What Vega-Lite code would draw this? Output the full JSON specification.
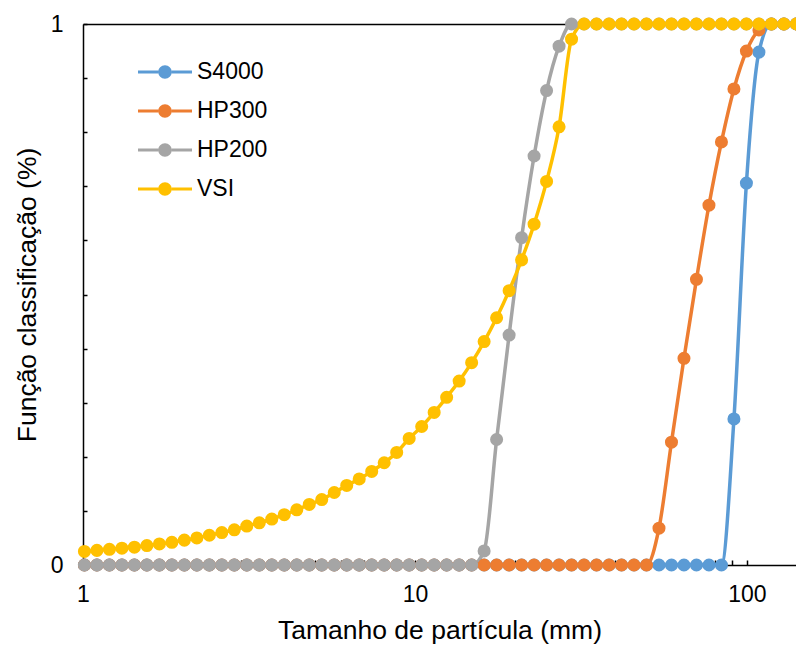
{
  "$schema": "https://vega.github.io/schema/vega-lite/v6.json",
  "width": 713,
  "height": 541,
  "autosize": {"type": "none"},
  "padding": {"left": 83, "top": 24, "right": 0, "bottom": 81},
  "background": "white",
  "config": {"view": {"stroke": null}, "font": "Liberation Sans"},
  "datasets": {
    "curves": [
      {"series": "S4000", "x": 1.01, "y": 0}, {"series": "S4000", "x": 1.1014, "y": 0}, {"series": "S4000", "x": 1.2011, "y": 0}, {"series": "S4000", "x": 1.3098, "y": 0}, {"series": "S4000", "x": 1.4284, "y": 0}, {"series": "S4000", "x": 1.5576, "y": 0}, {"series": "S4000", "x": 1.6986, "y": 0}, {"series": "S4000", "x": 1.8523, "y": 0}, {"series": "S4000", "x": 2.02, "y": 0}, {"series": "S4000", "x": 2.2028, "y": 0}, {"series": "S4000", "x": 2.4022, "y": 0}, {"series": "S4000", "x": 2.6196, "y": 0}, {"series": "S4000", "x": 2.8567, "y": 0}, {"series": "S4000", "x": 3.1152, "y": 0}, {"series": "S4000", "x": 3.3972, "y": 0}, {"series": "S4000", "x": 3.7047, "y": 0}, {"series": "S4000", "x": 4.04, "y": 0}, {"series": "S4000", "x": 4.4056, "y": 0}, {"series": "S4000", "x": 4.8044, "y": 0}, {"series": "S4000", "x": 5.2393, "y": 0}, {"series": "S4000", "x": 5.7135, "y": 0}, {"series": "S4000", "x": 6.2305, "y": 0}, {"series": "S4000", "x": 6.7945, "y": 0}, {"series": "S4000", "x": 7.4094, "y": 0}, {"series": "S4000", "x": 8.08, "y": 0}, {"series": "S4000", "x": 8.8112, "y": 0}, {"series": "S4000", "x": 9.6088, "y": 0}, {"series": "S4000", "x": 10.479, "y": 0}, {"series": "S4000", "x": 11.427, "y": 0}, {"series": "S4000", "x": 12.461, "y": 0}, {"series": "S4000", "x": 13.589, "y": 0}, {"series": "S4000", "x": 14.819, "y": 0}, {"series": "S4000", "x": 16.16, "y": 0}, {"series": "S4000", "x": 17.622, "y": 0}, {"series": "S4000", "x": 19.218, "y": 0}, {"series": "S4000", "x": 20.956, "y": 0}, {"series": "S4000", "x": 22.853, "y": 0}, {"series": "S4000", "x": 24.922, "y": 0}, {"series": "S4000", "x": 27.178, "y": 0}, {"series": "S4000", "x": 29.637, "y": 0}, {"series": "S4000", "x": 32.32, "y": 0}, {"series": "S4000", "x": 35.245, "y": 0}, {"series": "S4000", "x": 38.436, "y": 0}, {"series": "S4000", "x": 41.914, "y": 0}, {"series": "S4000", "x": 45.708, "y": 0}, {"series": "S4000", "x": 49.844, "y": 0}, {"series": "S4000", "x": 54.355, "y": 0}, {"series": "S4000", "x": 59.275, "y": 0}, {"series": "S4000", "x": 64.64, "y": 0}, {"series": "S4000", "x": 70.491, "y": 0}, {"series": "S4000", "x": 76.87, "y": 0}, {"series": "S4000", "x": 83.828, "y": 0}, {"series": "S4000", "x": 91.415, "y": 0.27}, {"series": "S4000", "x": 99.688, "y": 0.706}, {"series": "S4000", "x": 108.71, "y": 0.948}, {"series": "S4000", "x": 118.55, "y": 1}, {"series": "S4000", "x": 129.28, "y": 1}, {"series": "S4000", "x": 140.98, "y": 1},
      {"series": "HP300", "x": 1.01, "y": 0}, {"series": "HP300", "x": 1.1014, "y": 0}, {"series": "HP300", "x": 1.2011, "y": 0}, {"series": "HP300", "x": 1.3098, "y": 0}, {"series": "HP300", "x": 1.4284, "y": 0}, {"series": "HP300", "x": 1.5576, "y": 0}, {"series": "HP300", "x": 1.6986, "y": 0}, {"series": "HP300", "x": 1.8523, "y": 0}, {"series": "HP300", "x": 2.02, "y": 0}, {"series": "HP300", "x": 2.2028, "y": 0}, {"series": "HP300", "x": 2.4022, "y": 0}, {"series": "HP300", "x": 2.6196, "y": 0}, {"series": "HP300", "x": 2.8567, "y": 0}, {"series": "HP300", "x": 3.1152, "y": 0}, {"series": "HP300", "x": 3.3972, "y": 0}, {"series": "HP300", "x": 3.7047, "y": 0}, {"series": "HP300", "x": 4.04, "y": 0}, {"series": "HP300", "x": 4.4056, "y": 0}, {"series": "HP300", "x": 4.8044, "y": 0}, {"series": "HP300", "x": 5.2393, "y": 0}, {"series": "HP300", "x": 5.7135, "y": 0}, {"series": "HP300", "x": 6.2305, "y": 0}, {"series": "HP300", "x": 6.7945, "y": 0}, {"series": "HP300", "x": 7.4094, "y": 0}, {"series": "HP300", "x": 8.08, "y": 0}, {"series": "HP300", "x": 8.8112, "y": 0}, {"series": "HP300", "x": 9.6088, "y": 0}, {"series": "HP300", "x": 10.479, "y": 0}, {"series": "HP300", "x": 11.427, "y": 0}, {"series": "HP300", "x": 12.461, "y": 0}, {"series": "HP300", "x": 13.589, "y": 0}, {"series": "HP300", "x": 14.819, "y": 0}, {"series": "HP300", "x": 16.16, "y": 0}, {"series": "HP300", "x": 17.622, "y": 0}, {"series": "HP300", "x": 19.218, "y": 0}, {"series": "HP300", "x": 20.956, "y": 0}, {"series": "HP300", "x": 22.853, "y": 0}, {"series": "HP300", "x": 24.922, "y": 0}, {"series": "HP300", "x": 27.178, "y": 0}, {"series": "HP300", "x": 29.637, "y": 0}, {"series": "HP300", "x": 32.32, "y": 0}, {"series": "HP300", "x": 35.245, "y": 0}, {"series": "HP300", "x": 38.436, "y": 0}, {"series": "HP300", "x": 41.914, "y": 0}, {"series": "HP300", "x": 45.708, "y": 0}, {"series": "HP300", "x": 49.844, "y": 0}, {"series": "HP300", "x": 54.355, "y": 0.068}, {"series": "HP300", "x": 59.275, "y": 0.227}, {"series": "HP300", "x": 64.64, "y": 0.382}, {"series": "HP300", "x": 70.491, "y": 0.528}, {"series": "HP300", "x": 76.87, "y": 0.665}, {"series": "HP300", "x": 83.828, "y": 0.782}, {"series": "HP300", "x": 91.415, "y": 0.88}, {"series": "HP300", "x": 99.688, "y": 0.95}, {"series": "HP300", "x": 108.71, "y": 0.989}, {"series": "HP300", "x": 118.55, "y": 1}, {"series": "HP300", "x": 129.28, "y": 1}, {"series": "HP300", "x": 140.98, "y": 1},
      {"series": "HP200", "x": 1.01, "y": 0}, {"series": "HP200", "x": 1.1014, "y": 0}, {"series": "HP200", "x": 1.2011, "y": 0}, {"series": "HP200", "x": 1.3098, "y": 0}, {"series": "HP200", "x": 1.4284, "y": 0}, {"series": "HP200", "x": 1.5576, "y": 0}, {"series": "HP200", "x": 1.6986, "y": 0}, {"series": "HP200", "x": 1.8523, "y": 0}, {"series": "HP200", "x": 2.02, "y": 0}, {"series": "HP200", "x": 2.2028, "y": 0}, {"series": "HP200", "x": 2.4022, "y": 0}, {"series": "HP200", "x": 2.6196, "y": 0}, {"series": "HP200", "x": 2.8567, "y": 0}, {"series": "HP200", "x": 3.1152, "y": 0}, {"series": "HP200", "x": 3.3972, "y": 0}, {"series": "HP200", "x": 3.7047, "y": 0}, {"series": "HP200", "x": 4.04, "y": 0}, {"series": "HP200", "x": 4.4056, "y": 0}, {"series": "HP200", "x": 4.8044, "y": 0}, {"series": "HP200", "x": 5.2393, "y": 0}, {"series": "HP200", "x": 5.7135, "y": 0}, {"series": "HP200", "x": 6.2305, "y": 0}, {"series": "HP200", "x": 6.7945, "y": 0}, {"series": "HP200", "x": 7.4094, "y": 0}, {"series": "HP200", "x": 8.08, "y": 0}, {"series": "HP200", "x": 8.8112, "y": 0}, {"series": "HP200", "x": 9.6088, "y": 0}, {"series": "HP200", "x": 10.479, "y": 0}, {"series": "HP200", "x": 11.427, "y": 0}, {"series": "HP200", "x": 12.461, "y": 0}, {"series": "HP200", "x": 13.589, "y": 0}, {"series": "HP200", "x": 14.819, "y": 0}, {"series": "HP200", "x": 16.16, "y": 0.026}, {"series": "HP200", "x": 17.622, "y": 0.232}, {"series": "HP200", "x": 19.218, "y": 0.425}, {"series": "HP200", "x": 20.956, "y": 0.605}, {"series": "HP200", "x": 22.853, "y": 0.756}, {"series": "HP200", "x": 24.922, "y": 0.877}, {"series": "HP200", "x": 27.178, "y": 0.959}, {"series": "HP200", "x": 29.637, "y": 1}, {"series": "HP200", "x": 32.32, "y": 1}, {"series": "HP200", "x": 35.245, "y": 1}, {"series": "HP200", "x": 38.436, "y": 1}, {"series": "HP200", "x": 41.914, "y": 1}, {"series": "HP200", "x": 45.708, "y": 1}, {"series": "HP200", "x": 49.844, "y": 1}, {"series": "HP200", "x": 54.355, "y": 1}, {"series": "HP200", "x": 59.275, "y": 1}, {"series": "HP200", "x": 64.64, "y": 1}, {"series": "HP200", "x": 70.491, "y": 1}, {"series": "HP200", "x": 76.87, "y": 1}, {"series": "HP200", "x": 83.828, "y": 1}, {"series": "HP200", "x": 91.415, "y": 1}, {"series": "HP200", "x": 99.688, "y": 1}, {"series": "HP200", "x": 108.71, "y": 1}, {"series": "HP200", "x": 118.55, "y": 1}, {"series": "HP200", "x": 129.28, "y": 1}, {"series": "HP200", "x": 140.98, "y": 1},
      {"series": "VSI", "x": 1.01, "y": 0.025}, {"series": "VSI", "x": 1.1014, "y": 0.027}, {"series": "VSI", "x": 1.2011, "y": 0.029}, {"series": "VSI", "x": 1.3098, "y": 0.031}, {"series": "VSI", "x": 1.4284, "y": 0.033}, {"series": "VSI", "x": 1.5576, "y": 0.036}, {"series": "VSI", "x": 1.6986, "y": 0.039}, {"series": "VSI", "x": 1.8523, "y": 0.042}, {"series": "VSI", "x": 2.02, "y": 0.046}, {"series": "VSI", "x": 2.2028, "y": 0.05}, {"series": "VSI", "x": 2.4022, "y": 0.055}, {"series": "VSI", "x": 2.6196, "y": 0.06}, {"series": "VSI", "x": 2.8567, "y": 0.065}, {"series": "VSI", "x": 3.1152, "y": 0.072}, {"series": "VSI", "x": 3.3972, "y": 0.078}, {"series": "VSI", "x": 3.7047, "y": 0.085}, {"series": "VSI", "x": 4.04, "y": 0.093}, {"series": "VSI", "x": 4.4056, "y": 0.102}, {"series": "VSI", "x": 4.8044, "y": 0.112}, {"series": "VSI", "x": 5.2393, "y": 0.121}, {"series": "VSI", "x": 5.7135, "y": 0.134}, {"series": "VSI", "x": 6.2305, "y": 0.147}, {"series": "VSI", "x": 6.7945, "y": 0.159}, {"series": "VSI", "x": 7.4094, "y": 0.173}, {"series": "VSI", "x": 8.08, "y": 0.189}, {"series": "VSI", "x": 8.8112, "y": 0.208}, {"series": "VSI", "x": 9.6088, "y": 0.234}, {"series": "VSI", "x": 10.479, "y": 0.256}, {"series": "VSI", "x": 11.427, "y": 0.282}, {"series": "VSI", "x": 12.461, "y": 0.31}, {"series": "VSI", "x": 13.589, "y": 0.34}, {"series": "VSI", "x": 14.819, "y": 0.374}, {"series": "VSI", "x": 16.16, "y": 0.413}, {"series": "VSI", "x": 17.622, "y": 0.457}, {"series": "VSI", "x": 19.218, "y": 0.507}, {"series": "VSI", "x": 20.956, "y": 0.564}, {"series": "VSI", "x": 22.853, "y": 0.63}, {"series": "VSI", "x": 24.922, "y": 0.709}, {"series": "VSI", "x": 27.178, "y": 0.81}, {"series": "VSI", "x": 29.637, "y": 0.972}, {"series": "VSI", "x": 32.32, "y": 1}, {"series": "VSI", "x": 35.245, "y": 1}, {"series": "VSI", "x": 38.436, "y": 1}, {"series": "VSI", "x": 41.914, "y": 1}, {"series": "VSI", "x": 45.708, "y": 1}, {"series": "VSI", "x": 49.844, "y": 1}, {"series": "VSI", "x": 54.355, "y": 1}, {"series": "VSI", "x": 59.275, "y": 1}, {"series": "VSI", "x": 64.64, "y": 1}, {"series": "VSI", "x": 70.491, "y": 1}, {"series": "VSI", "x": 76.87, "y": 1}, {"series": "VSI", "x": 83.828, "y": 1}, {"series": "VSI", "x": 91.415, "y": 1}, {"series": "VSI", "x": 99.688, "y": 1}, {"series": "VSI", "x": 108.71, "y": 1}, {"series": "VSI", "x": 118.55, "y": 1}, {"series": "VSI", "x": 129.28, "y": 1}, {"series": "VSI", "x": 140.98, "y": 1}
    ]
  },
  "data": {"name": "curves"},
  "encoding": {
    "x": {
      "field": "x",
      "type": "quantitative",
      "scale": {"type": "log", "domain": [1, 140.6], "nice": false},
      "axis": {
        "title": "Tamanho de partícula (mm)",
        "values": [1, 2, 3, 4, 5, 6, 7, 8, 9, 10, 20, 30, 40, 50, 60, 70, 80, 90, 100],
        "labelExpr": "datum.value == 1 ? '1' : (datum.value == 10 ? '10' : (datum.value == 100 ? '100' : ''))",
        "labelOverlap": false,
        "labelFlush": false,
        "labelBound": false,
        "grid": false,
        "tickSize": -5,
        "tickWidth": 1.5,
        "tickColor": "black",
        "domainColor": "black",
        "domainWidth": 1.5,
        "labelFontSize": 23,
        "labelColor": "black",
        "labelPadding": 23,
        "titleFontSize": 26.5,
        "titleFontWeight": "normal",
        "titleColor": "black",
        "titlePadding": 11
      }
    },
    "y": {
      "field": "y",
      "type": "quantitative",
      "scale": {"domain": [0, 1], "nice": false},
      "axis": {
        "title": "Função classificação (%)",
        "values": [0, 0.1, 0.2, 0.3, 0.4, 0.5, 0.6, 0.7, 0.8, 0.9, 1],
        "labelExpr": "datum.value == 0 ? '0' : (datum.value == 1 ? '1' : '')",
        "labelOverlap": false,
        "labelFlush": false,
        "grid": true,
        "gridColor": "black",
        "gridWidth": 1.3,
        "gridOpacity": {"condition": {"test": "datum.value == 1", "value": 1}, "value": 0},
        "tickSize": -4,
        "tickWidth": 1.5,
        "tickColor": "black",
        "domainColor": "black",
        "domainWidth": 1.5,
        "labelFontSize": 23,
        "labelColor": "black",
        "labelPadding": 24,
        "titleFontSize": 26.5,
        "titleFontWeight": "normal",
        "titleColor": "black",
        "titlePadding": 9
      }
    },
    "color": {
      "field": "series",
      "type": "nominal",
      "scale": {"domain": ["S4000", "HP300", "HP200", "VSI"], "range": ["#5B9BD5", "#ED7D31", "#A5A5A5", "#FFC000"]},
      "legend": {
        "title": null,
        "orient": "none",
        "legendX": 55,
        "legendY": 21,
        "padding": 0,
        "symbolType": "M-1,-0.06L-0.25,-0.06L-0.25,0.06L-1,0.06Z M0.25,-0.06L1,-0.06L1,0.06L0.25,0.06Z M-0.25,0A0.25,0.25 0 1,0 0.25,0A0.25,0.25 0 1,0 -0.25,0Z",
        "symbolSize": 2916,
        "symbolStrokeWidth": 0,
        "symbolOpacity": 1,
        "labelFontSize": 23,
        "labelColor": "black",
        "labelOffset": 5,
        "rowPadding": 0,
        "encode": {"symbols": {"update": {"fill": {"scale": "color", "field": "value"}, "opacity": {"value": 1}}}}
      }
    }
  },
  "layer": [
    {"mark": {"type": "line", "interpolate": "monotone", "strokeWidth": 3.5}},
    {"mark": {"type": "point", "filled": true, "size": 170, "opacity": 1}}
  ]
}
